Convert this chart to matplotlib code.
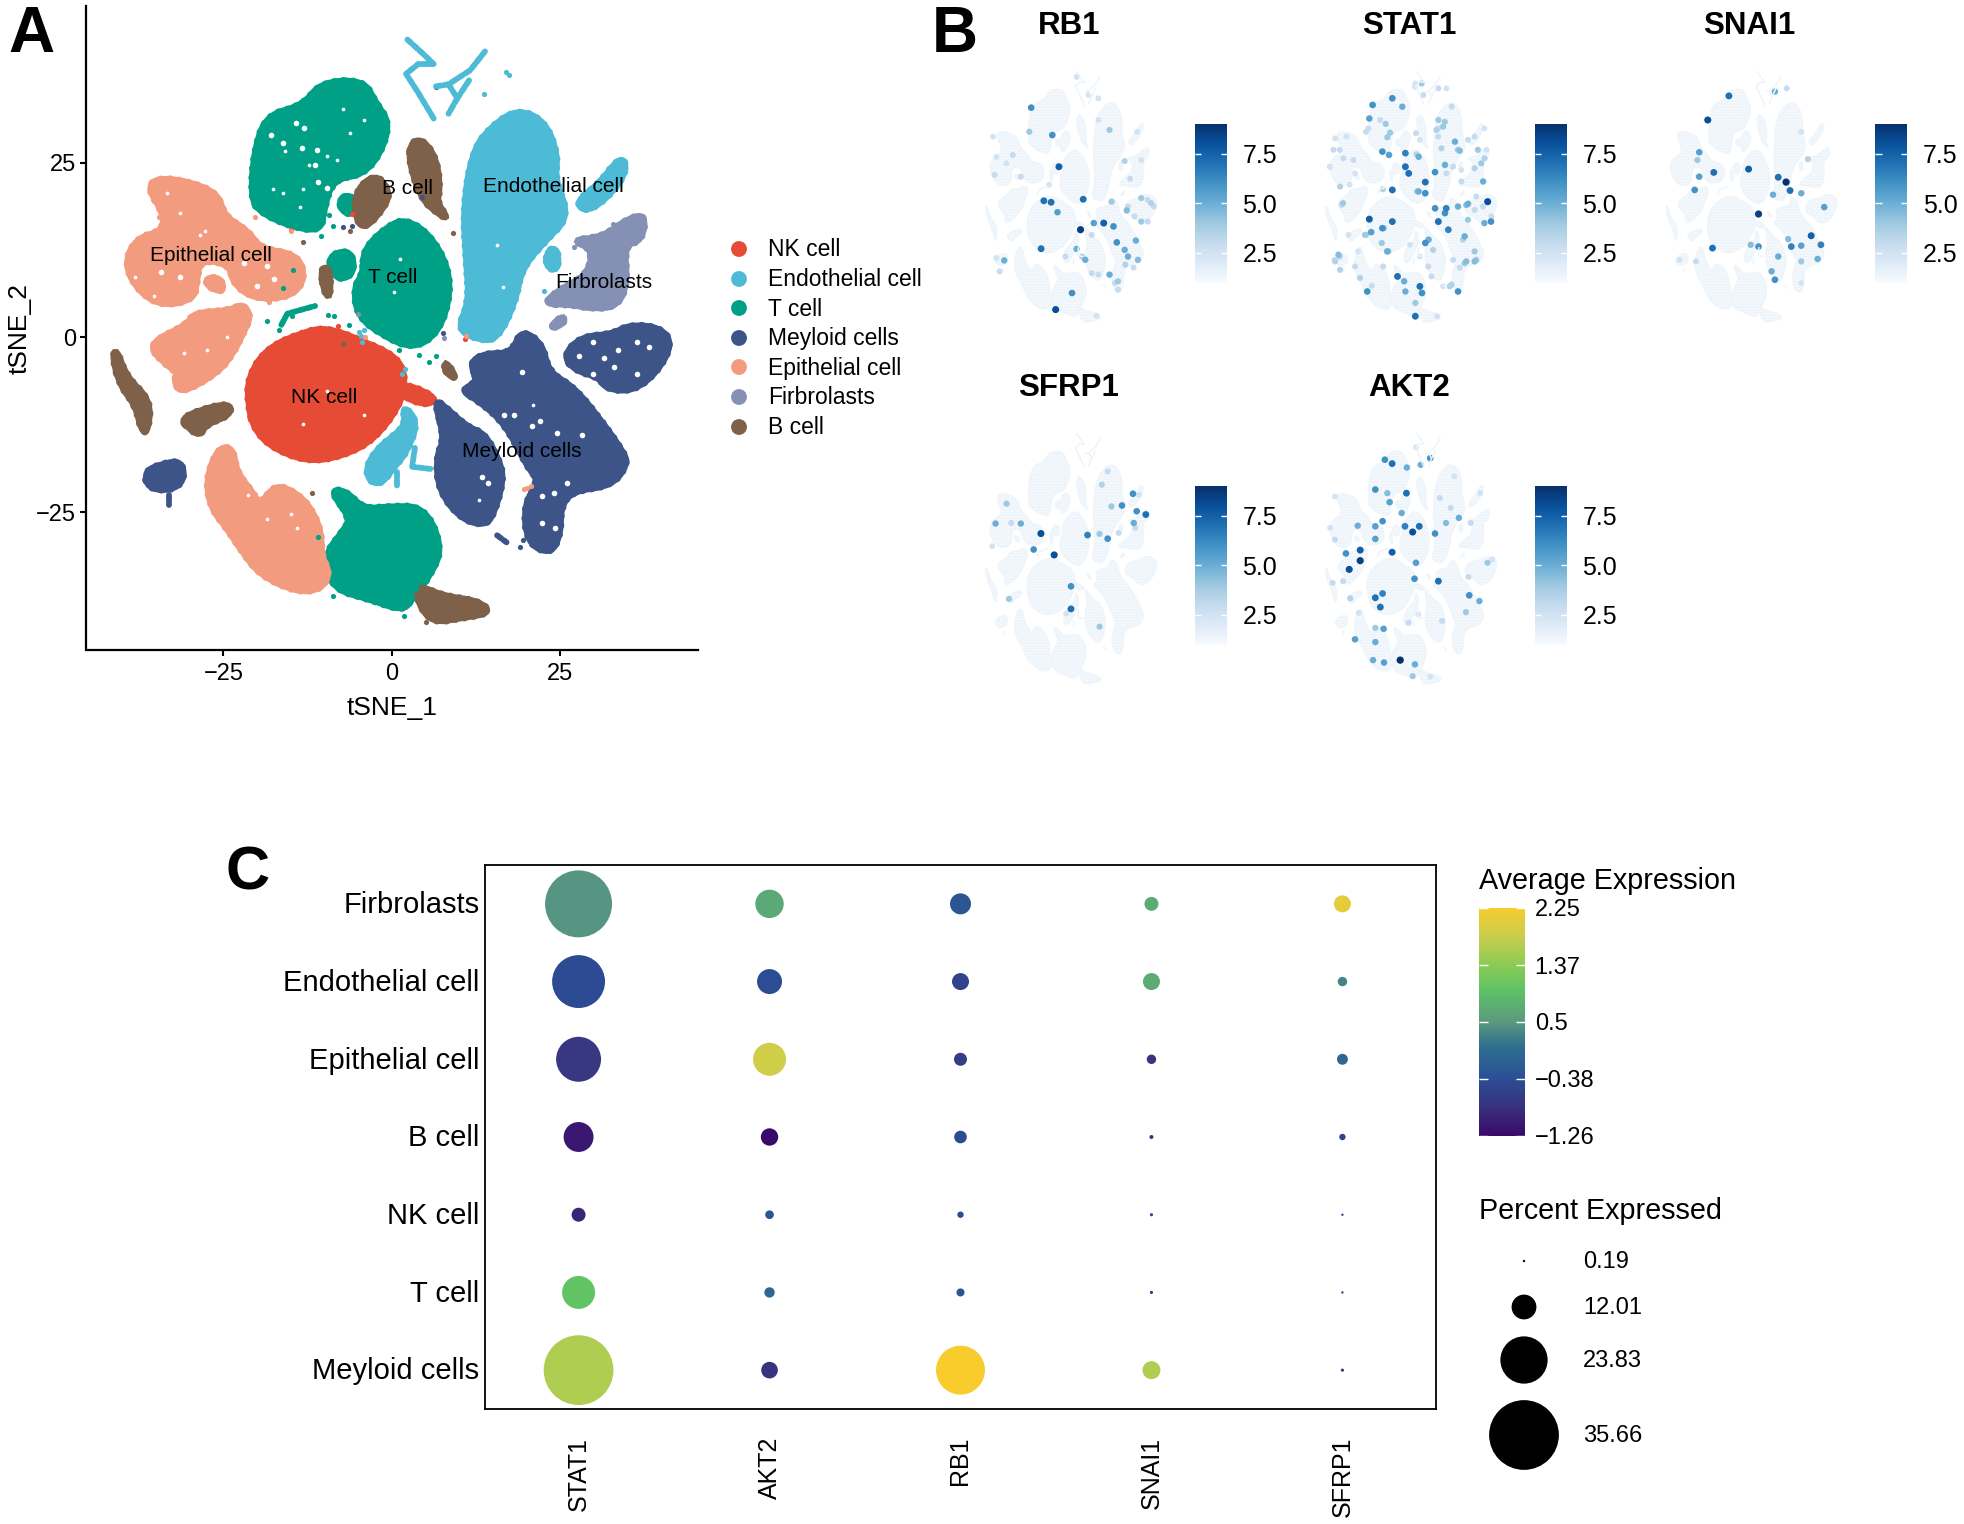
import matplotlib
matplotlib.use('Agg')
import matplotlib.pyplot as plt
import numpy as np
from matplotlib.colors import LinearSegmentedColormap
from matplotlib.path import Path
from matplotlib.patches import PathPatch
from matplotlib.transforms import ScaledTranslation

plt.rcParams['font.family'] = ['Liberation Sans', 'DejaVu Sans']
plt.rcParams['hatch.linewidth'] = 0.6

W, H = 1965, 1524

# panel A: cluster outlines (tSNE_1, tSNE_2)
nk_blobs = [
    [(-21.3,-9.7),(-21.3,-5.7),(-18.6,-1.6),(-13.2,0.7),(-9.6,1.4),(-4.2,-0.6),(0.3,-2.6),(1.9,-5.0),(1.6,-9.0),(-2.4,-14.4),(-6.9,-16.8),(-12.3,-17.8),(-17.7,-15.8),(-20.4,-13.1)],
    [(1.6,-6.7),(4.8,-7.7),(6.6,-9.0),(4.8,-9.6),(1.6,-8.4)],
]
endo_blobs = [
    [(9.7,1.1),(11.5,5.1),(11.1,10.5),(10.6,18.6),(12.0,26.7),(14.7,30.1),(18.7,32.7),(22.8,30.8),(24.6,26.0),(24.1,22.7),(26.3,17.3),(22.8,13.9),(19.2,9.9),(18.3,5.1),(15.6,-0.3),(12.9,-0.3)],
    [(34.0,26.0),(34.9,24.0),(32.6,20.6),(29.0,17.9),(27.2,19.3),(30.8,22.0)],
    [(1.6,-9.7),(3.9,-12.1),(2.1,-16.5),(0.3,-18.5),(-1.5,-20.9),(-3.3,-20.6),(-3.8,-18.5),(-2.0,-15.8),(0.3,-14.1),(2.1,-12.4)],
    [(23.2,12.6),(24.6,12.6),(24.6,9.5),(22.8,10.2)],
]
endo_strands = [
    [(2.3,42.6),(4.8,40.4),(6.2,39.1),(3.9,39.1),(2.1,37.7),(3.9,35.0),(6.2,31.3)],
    [(13.8,40.9),(11.6,38.2),(8.4,36.2),(6.5,35.9)],
    [(8.4,36.2),(9.7,34.2),(11.6,37.0)],
    [(9.7,34.2),(8.4,32.0)],
    [(3.4,-15.8),(3.0,-18.5),(5.7,-18.8)],
    [(0.7,-19.2),(0.7,-21.2)],
]
t_blobs = [
    [(-20.9,20.0),(-20.4,26.7),(-18.6,31.8),(-13.2,33.1),(-10.5,36.5),(-4.2,36.8),(-2.4,33.5),(-0.4,30.8),(-1.5,26.7),(-4.2,23.3),(-8.7,22.7),(-10.1,18.6),(-10.5,15.2),(-15.0,15.9),(-19.5,17.9)],
    [(-4.2,12.6),(-0.6,15.9),(2.1,16.9),(5.7,14.6),(8.4,9.9),(8.5,5.1),(6.6,0.4),(3.0,-1.6),(-1.5,0.4),(-5.1,3.1),(-5.6,7.2),(-4.2,9.2)],
    [(-9.0,11.9),(-6.0,12.4),(-5.6,9.2),(-7.8,8.2),(-9.2,9.9)],
    [(-7.8,20.0),(-5.6,20.3),(-5.6,17.6),(-7.4,18.0)],
    [(-9.2,-21.9),(-6.9,-21.9),(-4.2,-24.6),(-0.6,-24.2),(4.8,-24.2),(7.5,-30.0),(5.7,-34.0),(3.0,-37.4),(1.6,-39.1),(-3.3,-37.4),(-8.7,-36.0),(-10.1,-31.3),(-7.4,-27.9),(-6.0,-25.9)],
]
t_strands = [
    [(-16.4,1.8),(-15.5,3.4),(-11.4,4.5)],
]
myeloid_blobs = [
    [(25.4,-2.6),(28.1,0.1),(32.6,0.4),(35.3,1.8),(39.8,1.4),(41.6,-0.9),(39.3,-5.0),(35.7,-7.7),(31.7,-7.3),(30.8,-5.7),(27.2,-4.7)],
    [(11.5,-3.6),(13.9,-2.3),(17.8,-2.3),(19.2,1.1),(22.3,-0.9),(23.2,-5.0),(26.8,-7.0),(30.4,-11.1),(34.4,-16.5),(34.9,-18.2),(32.6,-21.2),(26.8,-21.9),(25.0,-24.2),(25.0,-28.0),(23.6,-31.0),(20.1,-29.4),(19.6,-23.9),(21.9,-20.5),(20.1,-18.5),(16.9,-12.4),(12.9,-9.0),(10.2,-7.6),(12.9,-6.3)],
    [(6.2,-8.7),(8.4,-10.4),(11.1,-12.8),(13.8,-13.8),(16.0,-17.8),(16.5,-20.5),(15.1,-25.2),(13.8,-26.9),(10.2,-25.9),(7.0,-21.9),(6.6,-17.1),(7.9,-14.4)],
    [(-36.6,-19.2),(-34.4,-18.2),(-31.2,-17.6),(-30.8,-20.5),(-33.0,-21.9),(-36.2,-21.5)],
]
myeloid_strands = [
    [(-33.0,-22.5),(-33.0,-23.9)],
    [(15.6,-28.3),(17.0,-29.3)],
]
epi_blobs = [
    [(-36.2,21.3),(-34.8,22.8),(-30.3,22.3),(-25.8,20.6),(-24.9,17.3),(-21.3,15.2),(-19.5,12.6),(-14.1,11.9),(-12.8,8.5),(-15.0,5.8),(-20.4,5.5),(-23.6,7.8),(-24.0,10.5),(-28.5,11.2),(-29.0,7.8),(-29.4,5.5),(-33.9,4.5),(-37.5,6.5),(-39.7,10.5),(-37.9,14.2),(-33.9,15.2),(-33.9,17.9)],
    [(-27.6,8.5),(-25.4,8.5),(-24.9,6.5),(-27.2,7.2)],
    [(-36.2,-0.9),(-30.3,1.8),(-29.4,3.5),(-24.0,3.8),(-22.2,4.8),(-20.9,3.1),(-22.2,0.4),(-23.6,-2.3),(-25.8,-5.0),(-31.2,-8.0),(-32.3,-6.3),(-31.7,-5.0),(-33.9,-3.6)],
    [(-27.6,-20.5),(-25.8,-15.8),(-23.6,-15.8),(-23.1,-19.2),(-20.9,-21.9),(-19.5,-24.0),(-17.3,-21.0),(-14.1,-22.3),(-11.9,-24.6),(-10.5,-27.9),(-10.5,-31.3),(-9.2,-33.7),(-10.5,-36.0),(-14.1,-36.4),(-19.5,-34.0),(-22.2,-30.6),(-24.5,-27.2),(-26.7,-24.6)],
]
fibro_blobs = [
    [(22.3,4.8),(25.5,7.2),(29.0,8.9),(29.9,12.6),(26.7,13.9),(30.3,14.2),(32.6,15.2),(34.9,16.9),(37.6,17.6),(37.1,13.9),(34.4,13.2),(34.9,7.8),(33.5,4.5),(29.9,4.1),(26.3,4.8)],
    [(23.7,1.8),(25.5,3.1),(25.5,2.1),(24.1,1.4)],
]
b_blobs = [
    [(3.0,28.1),(4.8,28.1),(6.6,25.4),(7.1,21.3),(6.6,19.3),(8.4,16.9),(6.6,17.9),(4.3,20.0),(2.5,25.4)],
    [(-5.1,21.3),(-2.4,23.3),(-0.6,21.3),(-0.6,19.3),(-4.2,15.2),(-5.6,17.9)],
    [(-41.4,-3.0),(-40.9,-1.6),(-39.4,-5.7),(-35.8,-9.0),(-36.2,-13.4),(-37.1,-13.4),(-38.0,-9.7),(-40.2,-7.0)],
    [(-31.2,-11.7),(-28.5,-10.4),(-24.0,-9.4),(-24.0,-11.1),(-27.6,-12.4),(-28.5,-14.1),(-30.3,-12.8)],
    [(3.9,-35.4),(7.5,-37.0),(12.9,-37.7),(14.7,-39.4),(10.2,-40.1),(6.1,-40.8),(3.9,-38.1)],
    [(-10.5,9.9),(-9.2,9.9),(-9.2,5.5),(-10.1,6.8)],
    [(7.9,-3.3),(9.7,-6.0),(7.9,-5.0)],
]

# stray cells
nk_stray = [(10.8,-0.2),(-10.0,0.9),(-8.0,1.6),(-14.9,15.4),(-5.9,17.7)]
endo_stray = [(16.9,37.9),(17.4,37.5),(13.6,34.8),(-4.6,0.2),(-4.4,-0.6),(-4.9,0.8),(-4.2,1.0),(2.0,-4.5),(1.5,-5.2),(22.5,6.6)]
t_stray = [(-10.1,20.0),(-9.4,17.5),(-8.7,16.0),(-10.5,14.5),(-14.8,3.0),(-9.5,3.2),(-8.6,3.0),(-6.3,1.8),(1.0,-1.8),(4.0,-2.5),(5.5,-3.5),(6.5,-2.7),(-7.2,-34.5),(-8.7,-37.0),(1.8,-39.8),(3.5,-36.0),(-11.0,-28.5),(-14.7,9.6),(-16.1,7.0),(-16.7,1.0),(-18.5,2.4)]
myeloid_stray = [(6.5,35.8),(19.0,-30.0),(19.4,-29.0),(4.4,20.1),(7.6,0.6),(28.0,-0.4),(-5.9,15.9),(-7.2,15.8)]
epi_stray = [(20.1,-21.5),(20.7,-21.2),(19.6,-21.7),(-14.9,15.2),(-34.5,17.2),(-20.3,17.2),(11.0,0.2),(-4.0,0.1),(-18.2,5.0)]
fibro_stray = [(-5.0,3.3),(7.7,-0.1),(32.8,16.2),(27.0,12.9)]
b_stray = [(-13.2,13.7),(9.0,15.0),(-6.2,15.2),(-7.2,-1.0),(-11.8,-22.3),(5.0,-40.7)]

# white gaps inside the clusters
gap_x = [-12.3,-15.9,-17.7,-13.2,-9.6,21,12.9,15.6,16.5,0.3,1.2,-9.6,-13.2,-4.2,-7.2,-6.2,-4.2,-8.1,-16.1,-13.6,-27.7,-31.4,-33.4,-35.3,-38.1,-27.4,-30.9,-24.5,-15,-14.1,-18.6,-21.3,-28.5]
gap_y = [24.7,26.7,21.3,21.3,26,-9.7,-23.2,13.2,7.2,6.5,11.2,-7.7,-12.4,-11.1,32.6,29.2,31.1,25.4,20.7,18.7,15.2,17.8,20.7,5.9,8.7,-1.8,-2.2,0.1,-25.2,-27.3,-25.9,-22.5,14.6]
big_gap_x = [-14.3,-13.1,-18,-16.1,-13.3,-11.1,-11.4,-10.9,-9.6,-34.3,-31.4,-22,-18.5,-20,-17.5,19.3,18.1,16.6,20.8,22,28.2,24.5,14.3,13.4,26,22.3,24,24.2,22.3,38.1,32.9,36.4,36.4,27.7,29.9,33.6,31.4,29.9]
big_gap_y = [30.7,29.9,29,27.8,27.1,26.8,24.7,22.3,21.4,9.4,8.7,10.6,10.2,7.3,8.3,-4.9,-11.1,-11.1,-12.7,-12,-13.9,-13.7,-20.8,-19.9,-20.8,-22.7,-22.2,-27.3,-26.5,-1.3,-4.2,-5.3,-0.6,-2.7,-5.3,-1.8,-2.9,-0.6]

cell_types = ['NK cell','Endothelial cell','T cell','Meyloid cells','Epithelial cell','Firbrolasts','B cell']
cell_colors = ['#E64B35','#4DBBD5','#00A087','#3C5488','#F39B7F','#8491B4','#7E6148']
label_x = [-10.1,23.9,0.1,19.2,-26.9,31.5,2.3]
label_y = [-8.65,21.65,8.55,-16.35,11.75,7.85,21.25]

# panel B: cells with visible expression (tSNE_1, tSNE_2, level)
rb1_cells = [(-19.4,30.6,6),(-9.2,21.5,6),(18.4,23.2,4),(13,26.5,2.5),(-20.3,22.6,4),(-6,11,7.5),(-28.3,14.9,3),(-24.4,7.7,3),(-37,8.3,3),(-10.8,5,2.5),(-13.3,-0.3,7),(-9.8,-0.8,7),(-6.7,-4.1,5.5),(5.7,0.2,7),(19.4,-0.6,4),(33.7,0.6,4),(38.4,-1.1,3.5),(26.7,-3.5,4.5),(33.7,-7.2,4),(15.6,-7.7,7.5),(20.3,-8.8,6),(4.4,-9.9,8.5),(-14.6,-16.2,7),(2.5,-16.3,5),(6.7,-19.9,5),(21.9,-14.1,6),(27.3,-18.8,5),(32.1,-19.9,4.5),(25.7,-16.6,5),(31.1,-13.5,5),(13,-24.8,3),(18.4,-24.8,5),(22.5,-29.8,3),(-32.4,-20.1,5),(0.3,-30.9,6),(-7.6,-36.4,8),(12.1,-38.4,2.5),(25.7,12.9,3.5),(28.3,7,3),(2.5,40.8,2.5),(13,33.7,2.5),(8.3,34.8,2.5),(10.8,-7.7,5.5),(9.8,-11.6,3),(-36.2,-19.3,2.5),(-34.6,-23.7,3),(22.5,-27,4),(33.7,13.2,2.5),(31.7,22.6,2.5),
             (27.3,-2.2,3),(36.8,0,3),(39.8,-2.2,3),(30.5,-5.5,3),(36.8,-7.2,3),(-2.9,-18.8,3),(5.1,-18.8,3.5),(9.8,-24.3,3),(21,-27.6,3),(-36.2,14.3,2.5),(-31.4,12.1,2.5),(-37.8,21,2.5),(26,-21.5,3.5),(30,-22.5,3)]
stat1_cells = [(-9.2,33.7,6),(-18.7,31.5,6),(-20.3,27,5.5),(-4.4,30.9,5),(-12.4,25.2,4),(-21.9,22.6,3),(-14,16,6),(-10.8,14.9,5.5),(-2.9,15.5,6.5),(3.5,14.3,5),(19.4,30.9,3),(21,19.3,5),(13,23.7,3),(22.5,16.6,4),(16.2,11.6,5),(11.4,9.2,6),(-2.9,11,7),(-1.3,8.8,7),(6.7,5.9,7),(-9.2,3.3,7),(3.5,2.8,5),(6.7,2.2,6),(33.7,12.1,4),(34.6,6.1,5),(24.1,6.1,3),(36.8,-0.6,8),(27.3,-1.3,5),(38.4,-7.2,6),(35.2,-7.7,5),(11.4,-2.8,6),(16.8,-2.8,6.5),(22.5,-2.2,5),(13,-7.2,7),(17.8,-9.9,6.5),(16.2,-4.4,6),(-20.3,-6.4,7.5),(-9.2,-7.2,7),(-14,-9.4,6),(-19.4,-10.7,5.5),(-21.9,-11.6,4),(-11.7,-17.1,5),(8.3,-13.2,5),(6.7,-14.3,6),(25.7,-12.1,5),(30.5,-17.1,4),(30.5,-20.4,4.5),(25.7,-21,4),(-34.6,-18.8,3.5),(-37.1,-19.9,3),(-25.7,-17.1,2.5),(-6.7,-25.4,7),(-3.5,-27,5),(4.1,-28.7,7),(-2.9,-30.4,5),(5.1,-30.9,6),(22.5,-30.4,6),(19.4,-28.1,3.5),(1.9,-34.2,4),(1.9,-38.6,7),(12.4,-38.6,2.5),(-21.3,-30.4,6),(-33,-1.1,4),(-34.6,16.6,3),(-39.4,11,2.5),(-31.4,21,2.5),(-29.8,5,2.5),(1.9,38.6,2.5),(13,37,3),(35.2,23.7,2.5),(13,26.5,4)]
stat1_pale = [(-36.8,20.4,2.5),(-32.8,13.8,3),(-37.6,16.6,3),(-39.2,11,2.5),(-28,13.2,3),(-34.4,4.4,3.5),(-27.2,8.8,2.5),(16.1,25.9,4),(12.1,23.2,3.5),(15.3,24.3,4),(12.9,21,3),(14.5,17.1,3.5),(23.3,16.3,4.5),(27.3,19.9,3),(30.5,21,3),(32.1,16.6,4),(36.2,16.6,2.5),(35.3,13.8,3.5),(20.1,11,3),(24.1,9.9,2.5),(30.5,10.5,3.5),(16.9,8.8,3),(26.5,-1.7,4.5),(31.3,1.1,3),(34.5,-2.2,3),(27.3,-6.6,4),(38.6,-5.5,3),(30.5,-3.3,3),(24.9,-13.2,3.5),(20.1,-19.9,3),(26.5,-20.4,4.5),(31.3,-19.9,4),(23.3,-22.5,3),(18.5,-28.7,3.5),(15.3,-28.7,2.5),(9.7,-25.4,3),(8.1,-22.1,3),(4.1,-18.8,2.5),(10.5,-16.6,3.5),(-0.7,-14.9,2.5),(-11.2,-17.1,4.5),(-14.3,-14.3,4),(-13.2,-9.4,4),(-22.4,-11.6,4),(-33.6,-1.7,3),(-30.4,-11.6,2.5),(-27.2,-22.1,3),(-35.2,-18.2,4.5),(-36.8,-20.4,3.5),(-34.4,-23.2,3.5),(-24.8,-25.9,3.5),(-19.1,-28.5,3),(-13.6,-22.1,3),(4.9,38.6,4),(1.7,37.5,2.5),(5.7,34.8,3),(16.9,37,2.5),(-11.6,20.8,4),(-20.8,23.7,3),(-10.3,22.3,4),(-15.1,26.5,3),(2.5,15.1,3.5),(4.1,19.9,2.5),(2.2,22.1,3),(-13.8,3.5,3.5),(2.8,2.8,4)]
snai1_cells = [(-11.1,34.5,7),(-21.3,26.5,8),(16.8,37,3),(11.1,35.9,5),(-25.4,15.8,5.5),(-26.3,13.2,4),(-18.4,9.1,7),(-25.4,7.7,5.5),(-1.6,10.2,7.5),(16.5,5.9,9),(12.7,7.5,7),(18.4,3.1,7),(23.8,2.2,5),(10.2,1.7,5),(-27.6,3.3,6),(3.2,-4.7,8.5),(34.9,-2.4,5.5),(-19,-16,7),(-0.6,-14.9,4.5),(3.2,-15.5,6),(17.5,-13,4.5),(19,-15.5,6.5),(23.8,-15.2,5.5),(28.6,-11.9,7.5),(33.3,-14.9,6.5),(31.7,-19.6,5),(23.8,-20.4,4),(12.7,-18.8,5),(9.5,-23.7,5),(11.1,-26.5,6),(-34.9,-19.9,2.5),(-27,-20.4,3),(23.8,-27.6,2.5),(23.8,22.6,2.5),(27,13.5,3.5)]
sfrp1_cells = [(-14.7,9.4,8),(-8.3,2.3,8),(-31.3,19.3,4),(-36.6,12.7,5),(-29,12.9,3),(-24.4,12.7,5),(-38.2,5.2,2.5),(-18.2,4.1,6),(-30.1,-12.3,4),(-0.2,-15.6,7),(-2.5,-17.1,2.5),(-0.2,-8.1,6),(13.6,-21.5,4),(17.5,30,3),(14.7,25.6,3.5),(19.3,18.4,4),(24.4,18.7,6),(29.7,22.6,6),(32.6,22.3,2.5),(31.5,16.8,6),(35.9,15.7,7),(30.1,12.9,5),(30.8,11.3,3),(7.8,8.9,6.5),(13.6,9.3,4),(17.5,7.7,6),(22.8,9.6,3)]
akt2_cells = [(-12.8,33.9,6),(-9.3,32.6,7),(-2.2,31.3,5),(4.5,32.2,5),(9.1,34.4,6),(2.2,38,2.5),(-17.4,24,6),(-11.6,22.8,4.5),(-2.4,22.8,7),(-10.5,19.8,5.5),(-4.7,16.2,5),(-13.9,13.5,6),(-17.4,11.8,5.5),(-25.9,12,5),(-17.4,7.6,5.5),(-9.3,3.2,7.5),(-24.7,3.9,7.5),(-24.7,0.4,8.5),(-30,-2.5,8),(-31.6,2.8,6),(-38,-7,3),(-33,-6.4,3),(0.6,9.9,8),(3.8,11.8,7),(-3.1,11.8,6.5),(11.4,9.4,6),(16.7,12.9,4.5),(22.9,14.6,5),(13.7,21.2,3),(19,17.9,3),(20.6,28.4,2.5),(28.6,12.9,3),(33.2,22.8,2.5),(36.7,-0.3,4),(39,0.8,2.5),(1.5,-5.6,6),(2.2,-0.3,5.5),(13,-6.4,7),(27.5,-5,3),(27.9,-11.1,6),(32.8,-13,5),(26.3,-16.7,4),(-13.9,-10.5,6.5),(-17.4,-11.9,7),(-15,-15,7),(-29.5,-12.1,3.5),(-25.4,-16.9,2.5),(-13.4,-22.2,5.5),(-17.4,-21.9,4),(-27.2,-25.7,5.5),(-17.4,-26.6,5),(-18.5,-32.6,5),(-13.2,-33.4,5.5),(-5.4,-32.6,9),(1.7,-34,5),(0.6,-37.9,4),(9.1,-38.1,2.5),(14.8,-19.6,3),(-1.3,-20.2,3),(3.3,-17.4,2.5),(-36.9,21.7,2.5),(-36.9,7.4,3),(-39.2,11.3,2.5)]

feature_names = ['RB1','STAT1','SNAI1','SFRP1','AKT2']
feature_cells = [rb1_cells,stat1_cells+stat1_pale,snai1_cells,sfrp1_cells,akt2_cells]
feature_ticks = [2.5,5.0,7.5]
feature_min, feature_max = 1.0, 9.0

# panel C: dot plot
genes = ['STAT1','AKT2','RB1','SNAI1','SFRP1']
dot_rows = ['Meyloid cells','T cell','NK cell','B cell','Epithelial cell','Endothelial cell','Firbrolasts']
pct_meyloid = [35.66,7.7,24.7,8.4,0.6]
pct_t = [16.3,4.4,3.2,0.6,0.19]
pct_nk = [6.3,3.5,2.3,0.6,0.2]
pct_b = [14.7,8.1,5.6,1.05,2.3]
pct_epi = [22.6,16.3,5.8,3.9,4.7]
pct_endo = [26.8,12.1,7.9,7.9,3.9]
pct_fibro = [34.2,13.9,10.0,6.3,7.9]
avg_meyloid = [1.6,-0.8,2.25,1.6,-0.8]
avg_t = [1.0,0.0,-0.3,-0.8,-0.7]
avg_nk = [-0.95,-0.3,-0.45,-0.6,-0.5]
avg_b = [-1.1,-1.26,-0.45,-0.8,-0.6]
avg_epi = [-0.75,1.85,-0.65,-0.8,0.0]
avg_endo = [-0.45,-0.42,-0.55,0.7,0.3]
avg_fibro = [0.45,0.65,-0.3,0.7,2.05]
pct_rows = [pct_meyloid,pct_t,pct_nk,pct_b,pct_epi,pct_endo,pct_fibro]
avg_rows = [avg_meyloid,avg_t,avg_nk,avg_b,avg_epi,avg_endo,avg_fibro]
avg_ticks = [-1.26,-0.38,0.5,1.37,2.25]
avg_tick_labels = ['\u22121.26','\u22120.38','0.5','1.37','2.25']
size_levels = [0.19,12.01,23.83,35.66]

dot_cmap = LinearSegmentedColormap.from_list('dots',[
    (0.0,'#3A0A6B'),(0.13,'#39337F'),(0.25,'#2B4F95'),(0.39,'#2F6F8F'),(0.50,'#5B9A7F'),
    (0.64,'#5FC465'),(0.75,'#8DCB55'),(0.87,'#C9CE4D'),(1.0,'#F8CC2D')])


def px_axes(left,top,right,bottom):
    return fig.add_axes([left/W,1-bottom/H,(right-left)/W,(bottom-top)/H])


def smooth_path(blob):
    # rounded closed outline, the outline points act as bezier control points
    n=len(blob)
    mids=[((blob[i][0]+blob[(i+1)%n][0])/2,(blob[i][1]+blob[(i+1)%n][1])/2) for i in range(n)]
    verts=[mids[-1]]
    codes=[Path.MOVETO]
    for i in range(n):
        verts+=[blob[i],mids[i]]
        codes+=[Path.CURVE3,Path.CURVE3]
    return Path(verts,codes)


def draw_cluster(ax,blobs,strands,color,lw,bump,hatch=None):
    for blob in blobs:
        path=smooth_path(blob)
        if hatch:
            ax.add_patch(PathPatch(path,facecolor=color,edgecolor='white',hatch=hatch,lw=0))
        else:
            ax.add_patch(PathPatch(path,facecolor=color,edgecolor=color,lw=lw))
        # beaded edge so the outline looks like single cells
        ax.add_patch(PathPatch(path,fill=False,edgecolor=color,lw=bump,ls=(0,(0.01,1.1)),capstyle='round'))
    for strand in strands:
        ax.plot([p[0] for p in strand],[p[1] for p in strand],color=color,lw=bump*0.7,ls=(0,(0.9,0.5)),dash_capstyle='round')


def pct_to_size(pct):
    # diameter in px grows linearly with percent, scatter wants points squared
    d=2+1.9*np.asarray(pct)
    return (d*72/100)**2


fig=plt.figure(figsize=(W/100,H/100),dpi=100)

# ---- A ----
ax=px_axes(86.5,6,698,650)
clusters=[(nk_blobs,[],nk_stray),(endo_blobs,endo_strands,endo_stray),(t_blobs,t_strands,t_stray),
          (myeloid_blobs,myeloid_strands,myeloid_stray),(epi_blobs,[],epi_stray),(fibro_blobs,[],fibro_stray),(b_blobs,[],b_stray)]
for (blobs,strands,stray),col in zip(clusters,cell_colors):
    draw_cluster(ax,blobs,strands,col,5,6)
ax.scatter(gap_x,gap_y,s=7,color='white',linewidths=0)
ax.scatter(big_gap_x,big_gap_y,s=16,color='white',linewidths=0)
for (blobs,strands,stray),col in zip(clusters,cell_colors):
    ax.scatter([p[0] for p in stray],[p[1] for p in stray],s=14,color=col,linewidths=0)
for name,x,y in zip(cell_types,label_x,label_y):
    ax.text(x,y,name,fontsize=15,ha='center',va='center',color='black')
ax.set_xlim(-45.3,45.4)
ax.set_ylim(-44.7,47.4)
ax.set_xticks([-25,0,25])
ax.set_yticks([-25,0,25])
ax.set_xticklabels(['\u221225','0','25'])
ax.set_yticklabels(['\u221225','0','25'])
ax.tick_params(labelsize=17,width=1.5,length=4,color='black')
ax.tick_params(axis='x',pad=5)
ax.spines['top'].set_visible(False)
ax.spines['right'].set_visible(False)
ax.spines['left'].set_linewidth(1.6)
ax.spines['bottom'].set_linewidth(1.6)
ax.set_xlabel('tSNE_1',fontsize=19,labelpad=8)
ax.set_ylabel('tSNE_2',fontsize=19,labelpad=3)

# ---- B ----
col_shift=[0,340,680.5,0,340]
row_shift=[0,0,0,362,362]
for name,cells,dx,dy in zip(feature_names,feature_cells,col_shift,row_shift):
    ax=px_axes(977.5+dx,57+dy,1165.5+dx,334.6+dy)
    for blobs,strands,stray in clusters:
        draw_cluster(ax,blobs,strands,'#EDF4FA',1,1.5,hatch='......')
    cells=sorted(cells,key=lambda c:c[2])
    ax.scatter([c[0] for c in cells],[c[1] for c in cells],c=[c[2] for c in cells],s=[14+c[2]*1.5 for c in cells],
               cmap='Blues',vmin=feature_min,vmax=feature_max,linewidths=0)
    ax.set_xlim(-45.3,45.4)
    ax.set_ylim(-44.7,47.4)
    ax.axis('off')

    cb=px_axes(1195+dx,123.7+dy,1227+dx,282.7+dy)
    grad=np.linspace(feature_min,feature_max,256).reshape(-1,1)
    cb.imshow(grad,origin='lower',aspect='auto',cmap='Blues',vmin=feature_min,vmax=feature_max,
              extent=[0,1,feature_min,feature_max])
    cb.hlines(feature_ticks,0,0.2,color='white',lw=1)
    cb.hlines(feature_ticks,0.8,1,color='white',lw=1)
    cb.set_xticks([])
    cb.yaxis.tick_right()
    cb.set_yticks(feature_ticks)
    cb.set_yticklabels(['2.5','5.0','7.5'])
    cb.tick_params(labelsize=18,length=0,pad=11)
    for s in cb.spines.values():
        s.set_visible(False)

# ---- C ----
ax=px_axes(485,865,1436,1409)
for i,(pcts,avgs) in enumerate(zip(pct_rows,avg_rows)):
    ax.scatter(range(len(genes)),[i]*len(genes),s=pct_to_size(pcts),c=avgs,cmap=dot_cmap,vmin=-1.26,vmax=2.25,linewidths=0)
ax.set_xlim(-0.49,4.49)
ax.set_ylim(-0.5,6.5)
ax.set_xticks(range(len(genes)))
ax.set_xticklabels(genes,rotation=90,fontsize=18,va='top',ha='center')
ax.set_yticks(range(len(dot_rows)))
ax.set_yticklabels(dot_rows,fontsize=21)
ax.tick_params(axis='x',length=0,pad=20)
ax.tick_params(axis='y',length=0,pad=4)
for lab in ax.get_yticklabels():
    lab.set_transform(lab.get_transform()+ScaledTranslation(0,1.2/72,fig.dpi_scale_trans))
for s in ax.spines.values():
    s.set_linewidth(1.3)

cb=px_axes(1479,908,1525,1136)
grad=np.linspace(-1.26,2.25,256).reshape(-1,1)
cb.imshow(grad,origin='lower',aspect='auto',cmap=dot_cmap,extent=[0,1,-1.26,2.25])
cb.hlines(avg_ticks,0,0.2,color='white',lw=1)
cb.hlines(avg_ticks,0.8,1,color='white',lw=1)
cb.set_xticks([])
cb.yaxis.tick_right()
cb.set_yticks(avg_ticks)
cb.set_yticklabels(avg_tick_labels)
cb.tick_params(labelsize=17,length=0,pad=7)
for s in cb.spines.values():
    s.set_visible(False)

# ---- texts and legends on top, pixel coordinates ----
top=fig.add_axes([0,0,1,1],zorder=10)
top.set_xlim(0,W)
top.set_ylim(H,0)
top.axis('off')
top.patch.set_alpha(0)

top.text(8,35,'A',fontsize=46,fontweight='bold',ha='left',va='center')
top.text(932,35,'B',fontsize=46,fontweight='bold',ha='left',va='center')
top.text(226,874,'C',fontsize=44,fontweight='bold',ha='left',va='center')

title_x=[1069,1409,1749,1069,1409]
title_y=[26,26,26,388,388]
for name,x,y in zip(feature_names,title_x,title_y):
    top.text(x,y,name,fontsize=22.5,fontweight='bold',ha='center',va='center')

legend_y=[249,279,308,338,367,397,427]
top.scatter([739]*7,legend_y,s=130,c=cell_colors,linewidths=0)
for name,y in zip(cell_types,legend_y):
    top.text(768,y+1,name,fontsize=16.5,ha='left',va='center')

top.text(1479,881,'Average Expression',fontsize=20.7,ha='left',va='center')
top.text(1479,1211,'Percent Expressed',fontsize=20.7,ha='left',va='center')
size_y=[1261,1307,1360,1435]
top.scatter([1524]*4,size_y,s=pct_to_size(size_levels),color='black',linewidths=0)
for lev,y in zip(size_levels,size_y):
    top.text(1583,y+1,'%.2f'%lev,fontsize=17,ha='left',va='center')

fig.savefig('out.png',dpi=100)
